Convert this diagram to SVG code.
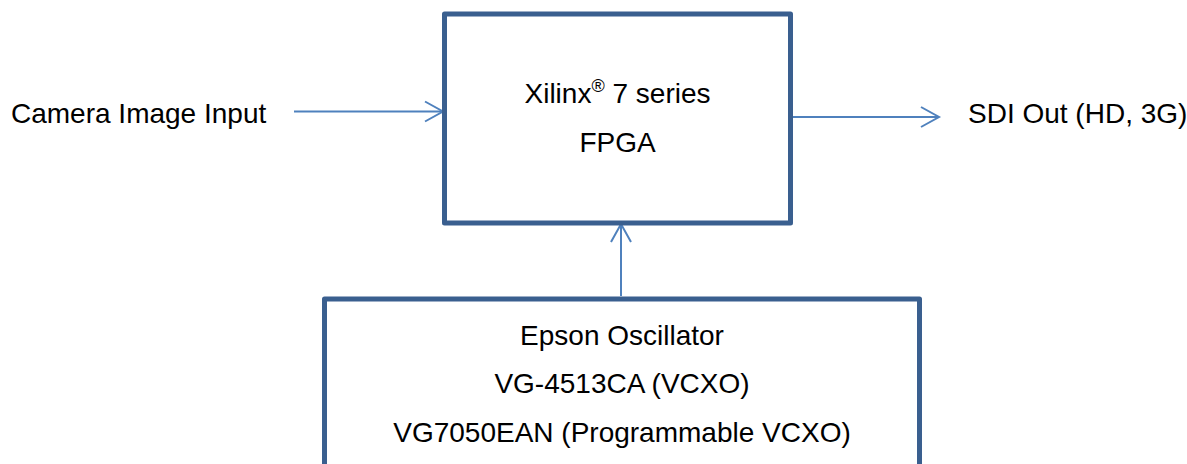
<svg xmlns="http://www.w3.org/2000/svg" width="1187" height="464" viewBox="0 0 1187 464">
  <defs>
    <style>
      .box { fill: #ffffff; stroke: #3A5F8F; stroke-width: 5; stroke-linejoin: round; }
      .lbl { font-family: "Liberation Sans", Arial, sans-serif; font-size: 28px; fill: #000000; }
      .mid { text-anchor: middle; }
      .conn { stroke: #4F81BD; stroke-width: 2; fill: none; }
    </style>
    <marker id="arrow" markerUnits="userSpaceOnUse" markerWidth="24" markerHeight="26" refX="20" refY="12" orient="auto" viewBox="0 0 24 26">
      <path d="M2,2 L20,12 L2,22" fill="none" stroke="#4F81BD" stroke-width="2"/>
    </marker>
  </defs>
  <rect width="1187" height="464" fill="#ffffff"/>

  <g id="connectors">
    <line class="conn" x1="294" y1="111.5" x2="443" y2="111.5" marker-end="url(#arrow)"/>
    <line class="conn" x1="793" y1="117" x2="939" y2="117" marker-end="url(#arrow)"/>
    <line class="conn" x1="621" y1="296" x2="621" y2="224" marker-end="url(#arrow)"/>
  </g>

  <g id="fpga">
    <rect class="box" x="444.5" y="14" width="346" height="209"/>
    <text class="lbl mid" x="617.5" y="103">Xilinx<tspan font-size="18" dy="-11">®</tspan><tspan dy="11"> 7 series</tspan></text>
    <text class="lbl mid" x="617.5" y="152">FPGA</text>
  </g>

  <g id="oscillator">
    <rect class="box" x="324.5" y="299" width="595" height="200"/>
    <text class="lbl mid" x="622" y="345">Epson Oscillator</text>
    <text class="lbl mid" x="622" y="393">VG-4513CA (VCXO)</text>
    <text class="lbl mid" x="622" y="442">VG7050EAN (Programmable VCXO)</text>
  </g>

  <g id="camera-input">
    <text class="lbl" x="11" y="123">Camera Image Input</text>
  </g>

  <g id="sdi-out">
    <text class="lbl" x="968" y="123">SDI Out (HD, 3G)</text>
  </g>
</svg>
